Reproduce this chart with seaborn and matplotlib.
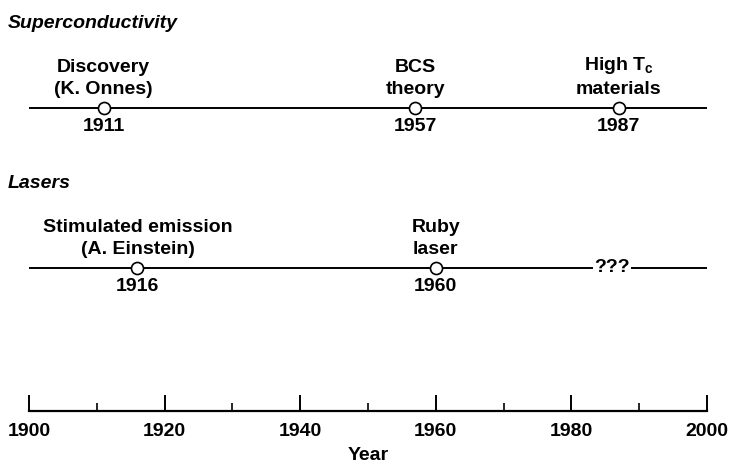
import matplotlib
matplotlib.use("Agg")
import matplotlib.pyplot as plt
import seaborn as sns
import pandas as pd

# ---- data ----
sc_years = [1911, 1957, 1987]
sc_labels = ["Discovery\n(K. Onnes)", "BCS\ntheory", "High T$_\\mathbf{c}$\nmaterials"]
laser_years = [1916, 1960]
laser_labels = ["Stimulated emission\n(A. Einstein)", "Ruby\nlaser"]
future_year = 1986
future_label = "???"
track_names = ["Superconductivity", "Lasers"]
year_range = [1900, 2000]
major_ticks = [1900, 1920, 1940, 1960, 1980, 2000]
minor_ticks = [1910, 1930, 1950, 1970, 1990]
xlabel = "Year"

# ---- layout ----
W, H = 729, 466
AX_LEFT, AX_RIGHT, AX_BOTTOM = 29, 707, 411
ROW_Y = {"Superconductivity": 108, "Lasers": 268}
TITLE_Y = {"Superconductivity": 23, "Lasers": 183}
FS = 14

sns.set_theme(style="white")
plt.rcParams['font.family'] = ['Liberation Sans', 'DejaVu Sans']
plt.rcParams['text.color'] = 'black'
plt.rcParams['axes.labelcolor'] = 'black'
plt.rcParams['xtick.color'] = 'black'
plt.rcParams['mathtext.fontset'] = 'custom'
plt.rcParams['mathtext.rm'] = 'Liberation Sans:bold'
plt.rcParams['mathtext.bf'] = 'Liberation Sans:bold'
plt.rcParams['mathtext.it'] = 'Liberation Sans:bold'

fig = plt.figure(figsize=(W / 100, H / 100), dpi=100)
ax = fig.add_axes([AX_LEFT / W, (H - AX_BOTTOM) / H, (AX_RIGHT - AX_LEFT) / W, AX_BOTTOM / H])
ax.set_xlim(*year_range)
ax.set_ylim(AX_BOTTOM, 0)

events = pd.DataFrame({
    "track": ["Superconductivity"] * len(sc_years) + ["Lasers"] * len(laser_years),
    "year": sc_years + laser_years,
    "label": sc_labels + laser_labels,
})
events["y"] = events["track"].map(ROW_Y)

# timeline lines
for tr in track_names:
    line_df = pd.DataFrame({"year": year_range, "y": [ROW_Y[tr]] * 2})
    sns.lineplot(data=line_df, x="year", y="y", color="black", linewidth=1.4, ax=ax, zorder=1)

# event markers
sns.scatterplot(data=events, x="year", y="y", marker="o", s=75, facecolor="white",
                edgecolor="black", linewidth=1.2, ax=ax, zorder=3, clip_on=False)

for _, r in events.iterrows():
    ax.annotate(r["label"], (r["year"], r["y"]), xytext=(0, 7.5), textcoords="offset points",
                ha="center", va="bottom", multialignment="center", fontsize=FS,
                fontweight="bold", linespacing=1.35)
    ax.annotate(str(r["year"]), (r["year"], r["y"]), xytext=(0, -7.5), textcoords="offset points",
                ha="center", va="top", fontsize=FS, fontweight="bold")

ax.text(future_year, ROW_Y["Lasers"], future_label, ha="center", va="center", fontsize=FS,
        fontweight="bold", zorder=4,
        bbox=dict(boxstyle="square,pad=0.08", fc="white", ec="none"))

for tr in track_names:
    fig.text(8 / W, 1 - TITLE_Y[tr] / H, tr, ha="left", va="center", fontsize=FS,
             fontweight="bold", fontstyle="italic")

# bottom axis
for s in ["left", "right", "top"]:
    ax.spines[s].set_visible(False)
ax.spines["bottom"].set_linewidth(1.6)
ax.spines["bottom"].set_color("black")
ax.set_yticks([])
ax.set_xticks(major_ticks)
ax.set_xticks(minor_ticks, minor=True)
ax.tick_params(axis="x", which="major", direction="in", length=11.5, width=1.4, color="black",
               pad=9, labelsize=FS, bottom=True)
ax.tick_params(axis="x", which="minor", direction="in", length=6, width=1.2, color="black",
               bottom=True)
for lab in ax.get_xticklabels():
    lab.set_fontweight("bold")
ax.set_xlabel(xlabel, fontsize=FS, fontweight="bold", labelpad=5)
ax.set_ylabel("")

fig.savefig("out.png", dpi=100)
